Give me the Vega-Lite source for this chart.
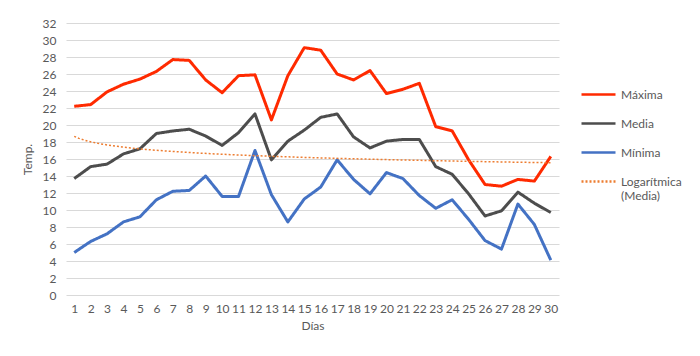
{
  "$schema": "https://vega.github.io/schema/vega-lite/v6.json",
  "width": 493,
  "height": 272,
  "autosize": {"type": "none"},
  "padding": {"left": 66, "top": 23, "right": 141, "bottom": 61},
  "background": "white",
  "data": {
    "values": [
      {"dia": 1, "Máxima": 22.2, "Media": 13.7, "Mínima": 5.0},
      {"dia": 2, "Máxima": 22.4, "Media": 15.1, "Mínima": 6.3},
      {"dia": 3, "Máxima": 23.9, "Media": 15.4, "Mínima": 7.2},
      {"dia": 4, "Máxima": 24.8, "Media": 16.6, "Mínima": 8.6},
      {"dia": 5, "Máxima": 25.4, "Media": 17.2, "Mínima": 9.2},
      {"dia": 6, "Máxima": 26.3, "Media": 19.0, "Mínima": 11.2},
      {"dia": 7, "Máxima": 27.7, "Media": 19.3, "Mínima": 12.2},
      {"dia": 8, "Máxima": 27.6, "Media": 19.5, "Mínima": 12.3},
      {"dia": 9, "Máxima": 25.3, "Media": 18.7, "Mínima": 14.0},
      {"dia": 10, "Máxima": 23.8, "Media": 17.6, "Mínima": 11.6},
      {"dia": 11, "Máxima": 25.8, "Media": 19.1, "Mínima": 11.6},
      {"dia": 12, "Máxima": 25.9, "Media": 21.3, "Mínima": 17.0},
      {"dia": 13, "Máxima": 20.6, "Media": 15.9, "Mínima": 11.8},
      {"dia": 14, "Máxima": 25.8, "Media": 18.1, "Mínima": 8.6},
      {"dia": 15, "Máxima": 29.1, "Media": 19.4, "Mínima": 11.3},
      {"dia": 16, "Máxima": 28.8, "Media": 20.9, "Mínima": 12.7},
      {"dia": 17, "Máxima": 26.0, "Media": 21.3, "Mínima": 15.9},
      {"dia": 18, "Máxima": 25.3, "Media": 18.6, "Mínima": 13.6},
      {"dia": 19, "Máxima": 26.4, "Media": 17.3, "Mínima": 11.9},
      {"dia": 20, "Máxima": 23.7, "Media": 18.1, "Mínima": 14.4},
      {"dia": 21, "Máxima": 24.2, "Media": 18.3, "Mínima": 13.7},
      {"dia": 22, "Máxima": 24.9, "Media": 18.3, "Mínima": 11.7},
      {"dia": 23, "Máxima": 19.8, "Media": 15.1, "Mínima": 10.2},
      {"dia": 24, "Máxima": 19.3, "Media": 14.2, "Mínima": 11.2},
      {"dia": 25, "Máxima": 15.9, "Media": 11.9, "Mínima": 8.9},
      {"dia": 26, "Máxima": 13.0, "Media": 9.3, "Mínima": 6.4},
      {"dia": 27, "Máxima": 12.8, "Media": 9.9, "Mínima": 5.4},
      {"dia": 28, "Máxima": 13.6, "Media": 12.1, "Mínima": 10.7},
      {"dia": 29, "Máxima": 13.4, "Media": 10.8, "Mínima": 8.3},
      {"dia": 30, "Máxima": 16.3, "Media": 9.7, "Mínima": 4.1}
    ]
  },
  "encoding": {
    "x": {
      "field": "dia", "type": "quantitative",
      "scale": {"domain": [0.5, 30.5], "nice": false, "zero": false},
      "axis": {
        "title": "Días",
        "values": [1,2,3,4,5,6,7,8,9,10,11,12,13,14,15,16,17,18,19,20,21,22,23,24,25,26,27,28,29,30],
        "grid": false, "domain": false, "ticks": false, "labelOverlap": false,
        "labelPadding": 8, "titlePadding": 6, "labelFlush": false
      }
    },
    "y": {
      "field": "valor", "type": "quantitative",
      "scale": {"domain": [0, 32], "nice": false},
      "axis": {
        "title": "Temp.",
        "values": [0,2,4,6,8,10,12,14,16,18,20,22,24,26,28,30,32],
        "domain": false, "ticks": false, "grid": true, "labelOverlap": false,
        "labelPadding": 10, "titlePadding": 8
      }
    }
  },
  "layer": [
    {
      "transform": [{"fold": ["Máxima", "Media", "Mínima"], "as": ["serie", "valor"]}],
      "mark": {"type": "line", "strokeJoin": "round", "strokeWidth": 3},
      "encoding": {
        "color": {
          "field": "serie", "type": "nominal",
          "scale": {"domain": ["Máxima", "Media", "Mínima", "Logarítmica (Media)"], "range": ["#FF2A00", "#4D4D4D", "#4472C4", "#ED7D31"]},
          "legend": {"labelExpr": "datum.label == 'Logarítmica (Media)' ? ['Logarítmica', '(Media)'] : datum.label"}
        },
        "strokeDash": {
          "field": "serie", "type": "nominal",
          "scale": {"domain": ["Máxima", "Media", "Mínima", "Logarítmica (Media)"], "range": [[1, 0], [1, 0], [1, 0], [2, 2]]},
          "legend": {"labelExpr": "datum.label == 'Logarítmica (Media)' ? ['Logarítmica', '(Media)'] : datum.label"}
        }
      }
    },
    {
      "transform": [{"regression": "Media", "on": "dia", "method": "log", "extent": [1, 30], "as": ["dia", "valor"]}],
      "mark": {"type": "line", "strokeWidth": 1.5},
      "encoding": {
        "color": {"datum": "Logarítmica (Media)", "type": "nominal"},
        "strokeDash": {"datum": "Logarítmica (Media)", "type": "nominal"}
      }
    }
  ],
  "config": {
    "font": "Lato",
    "view": {"stroke": null},
    "axis": {
      "labelFont": "Lato", "labelFontSize": 12, "labelColor": "#595959",
      "titleFont": "Lato", "titleFontSize": 12, "titleColor": "#595959", "titleFontWeight": "normal",
      "gridColor": "#D9D9D9", "gridWidth": 1
    },
    "legend": {
      "orient": "none", "legendX": 514, "legendY": 53,
      "title": null,
      "symbolType": "stroke", "symbolSize": 1156, "symbolStrokeWidth": 2.5,
      "labelFont": "Lato", "labelFontSize": 12, "labelColor": "#595959",
      "labelOffset": 4, "rowPadding": 4
    }
  }
}
